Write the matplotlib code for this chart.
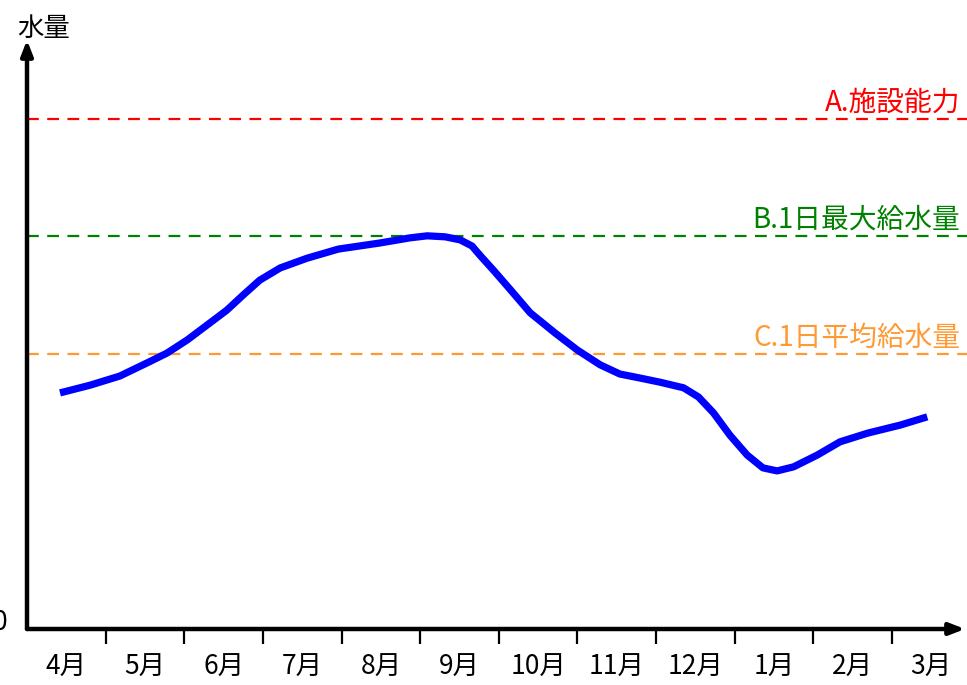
import matplotlib.pyplot as plt

plt.rcParams['font.family'] = ['Noto Sans CJK JP', 'DejaVu Sans']

months = ['4月', '5月', '6月', '7月', '8月', '9月',
          '10月', '11月', '12月', '1月', '2月', '3月']

# water amount curve (x in month units, A line = 100)
curve_x = [0.42, 0.80, 1.18, 1.53, 1.78, 2.04, 2.29, 2.54, 2.75, 2.96, 3.22,
           3.56, 3.96, 4.49, 4.87, 5.09, 5.32, 5.51, 5.66, 5.76, 5.93, 6.15,
           6.40, 6.72, 7.00, 7.29, 7.54, 7.80, 8.05, 8.35, 8.54, 8.73, 8.94,
           9.16, 9.36, 9.54, 9.75, 10.05, 10.34, 10.69, 11.11, 11.45]
curve_y = [46.3, 47.8, 49.6, 52.2, 54.1, 56.7, 59.6, 62.5, 65.5, 68.4, 70.8,
           72.7, 74.5, 75.7, 76.7, 77.1, 76.9, 76.3, 75.1, 73.3, 70.4, 66.5,
           62.0, 58.0, 54.7, 51.8, 50.0, 49.2, 48.4, 47.3, 45.5, 42.4, 38.0,
           34.1, 31.6, 31.0, 31.8, 34.1, 36.7, 38.4, 40.0, 41.6]

level_names = ['A.施設能力', 'B.1日最大給水量', 'C.1日平均給水量']
level_values = [100.0, 77.1, 53.9]
level_colors = ['#ff0000', '#008000', '#ff9933']

W, H = 967, 685
fig = plt.figure(figsize=(W / 100, H / 100), dpi=100)
ax = fig.add_axes([27 / W, (H - 629) / H, (965 - 27) / W, (629 - 40) / H])
ax.set_xlim(0, 11.93)
ax.set_ylim(0, 115.5)
for s in ax.spines.values():
    s.set_visible(False)

# axes with arrows
arrow = dict(arrowstyle='-|>,head_length=0.9,head_width=0.35', lw=3.2,
             color='black', shrinkA=0, shrinkB=0)
ax.annotate('', xy=(1, 0), xytext=(0, 0), xycoords='axes fraction',
            arrowprops=arrow, annotation_clip=False)
ax.annotate('', xy=(0, 1), xytext=(0, 0), xycoords='axes fraction',
            arrowprops=arrow, annotation_clip=False)

# target levels
for name, val, col in zip(level_names, level_values, level_colors):
    ax.plot([0, 1.005], [val, val], transform=ax.get_yaxis_transform(),
            color=col, lw=1.6, dashes=(5.3, 3.8), clip_on=False)
    ax.text(11.87, val + 1.6, name, color=col, fontsize=20, ha='right',
            va='baseline')

ax.plot(curve_x, curve_y, color='#0000ff', lw=5.2,
        solid_joinstyle='round', solid_capstyle='butt')

ax.set_xticks(range(1, 12))
ax.set_xticklabels([])
ax.tick_params(axis='x', which='major', length=11, width=1.6, direction='out')
ax.set_xticks([i + 0.5 for i in range(12)], minor=True)
ax.set_xticklabels(months, minor=True, fontsize=19)
ax.tick_params(axis='x', which='minor', length=0, pad=18)
ax.set_yticks([])

fig.text(44 / W, 1 - 28 / H, '水量', fontsize=19, ha='center', va='center')
fig.text(7 / W, 1 - 623 / H, '0', fontsize=19, ha='right', va='center')

fig.savefig('out.png', dpi=100)
